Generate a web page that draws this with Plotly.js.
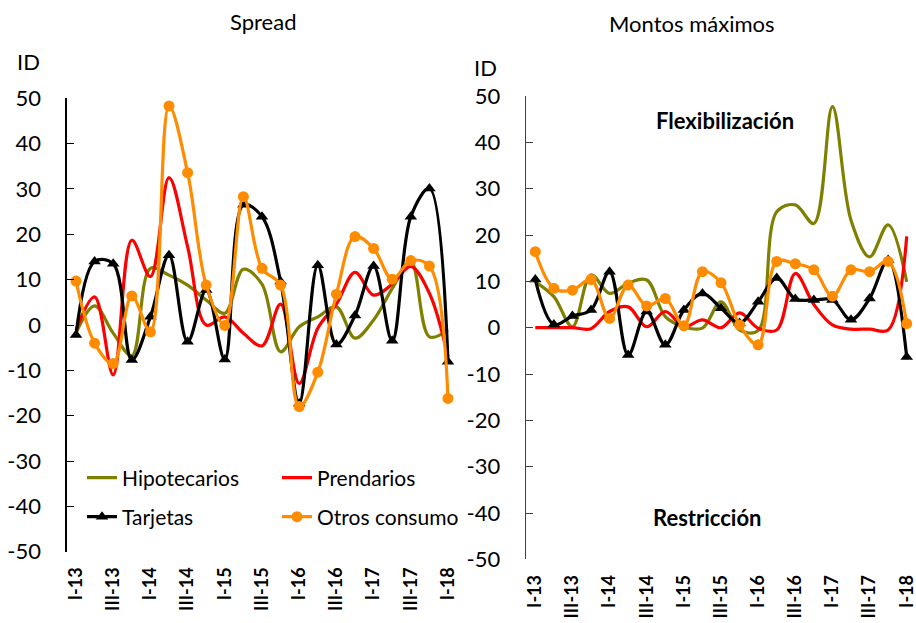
<!DOCTYPE html>
<html>
<head>
<meta charset="utf-8">
<script src="https://cdn.plot.ly/plotly-3.0.1.min.js"></script>
<style>
html,body{margin:0;padding:0;background:#fff;}
#chart{width:916px;height:623px;}
</style>
</head>
<body>
<div id="chart"></div>
<script>
// ---- Data ----
const quarters = ['I-13','II-13','III-13','IV-13','I-14','II-14','III-14','IV-14','I-15','II-15','III-15','IV-15','I-16','II-16','III-16','IV-16','I-17','II-17','III-17','IV-17','I-18'];
const tickLabels = ['I-13','III-13','I-14','III-14','I-15','III-15','I-16','III-16','I-17','III-17','I-18'];
const yTickValues = [-50, -40, -30, -20, -10, 0, 10, 20, 30, 40, 50];
const yTickText = ['-50', '-40', '-30', '-20', '-10', '0', '10', '20', '30', '40', '50'];
const seriesNames = ['Hipotecarios','Prendarios','Tarjetas','Otros consumo'];

// Spread (left panel)
const spreadHipotecarios = [-1.8, 4.2, -1.8, -6.8, 12.5, 11, 8.8, 5.5, 2.6, 12.3, 9.0, -5.9, -0.4, 1.8, 4.0, -2.9, 1.1, 8.0, 14.0, -2.6, -1.1];
const spreadPrendarios   = [-1.1, 6.2, -11, 18.7, 10.7, 32.5, 17.3, 0, 1.8, -1.8, -4.6, 4.6, -12.9, -0.7, 4.6, 11.6, 6.6, 9.0, 12.9, 7.0, -7.0];
const spreadTarjetas     = [-2.2, 14, 13.5, -7.7, 1.8, 15.4, -3.7, 7.7, -7.6, 26.5, 23.9, 9.6, -17.3, 13.2, -4.3, 2.1, 13.0, -3.5, 23.9, 30.1, -8.1];
const spreadOtros        = [9.7, -4, -8.5, 6.4, -1.5, 48.3, 33.6, 8.8, -0.1, 28.3, 12.5, 8.8, -18, -10.4, 6.8, 19.5, 16.9, 10.1, 14.2, 13.0, -16.2];

// Montos máximos (right panel)
const montosHipotecarios = [9.9, 6.7, 0.2, 11.4, 7.4, 9.6, 10.3, 2.4, 0.2, -0.1, 5.6, -0.5, -0.6, 25.0, 26.5, 22.5, 47.7, 23.2, 15.3, 22.2, 9.9];
const montosPrendarios   = [0, 0, 0, -0.2, 3.5, 4.5, 0.2, 3.5, 0.2, 1.7, 0, 3.2, -0.1, -0.5, 11.7, 5.0, 0.6, -0.3, -0.3, -0.5, 19.7];
const montosTarjetas     = [10.4, 0.7, 2.5, 3.8, 12.1, -5.9, 3.5, -3.7, 3.8, 7.4, 4.2, 1.0, 5.6, 10.7, 6.2, 6.0, 6.0, 1.7, 6.3, 14.6, -6.3];
const montosOtros        = [16.4, 8.5, 8.1, 10.4, 2.0, 9.2, 4.7, 6.3, 0.4, 12.1, 9.7, 0.6, -3.7, 14.3, 13.8, 12.5, 6.8, 12.5, 12.1, 14.3, 0.9];

// ---- Styles ----
const colors = ['#808000', '#ff0000', '#000000', '#ff8c00'];
const FONT = 'Lato, "Open Sans", sans-serif';
const W = 916, H = 623;

const leftX = [66.7 / W, 457.3 / W];
const rightX = [526 / W, 1.0];
const leftY = [1 - 551.7 / H, 1 - 98.3 / H];
const rightY = [1 - 559.4 / H, 1 - 96 / H];

function mk(x, y, i, xa, ya, legend, show) {
  const t = {
    x: x, y: y, type: 'scatter', name: seriesNames[i],
    xaxis: xa, yaxis: ya,
    line: {color: colors[i], width: 3.2, shape: 'spline', smoothing: 1},
    showlegend: show, legend: legend, cliponaxis: false
  };
  if (i === 2) { t.mode = 'lines+markers'; t.marker = {symbol: 'triangle-up', size: 11, color: colors[i]}; }
  else if (i === 3) { t.mode = 'lines+markers'; t.marker = {symbol: 'circle', size: 11, color: colors[i]}; }
  else { t.mode = 'lines'; }
  return t;
}

const traces = [
  mk(quarters, spreadHipotecarios, 0, 'x', 'y', 'legend', true),
  mk(quarters, spreadPrendarios, 1, 'x', 'y', 'legend', true),
  mk(quarters, spreadTarjetas, 2, 'x', 'y', 'legend2', true),
  mk(quarters, spreadOtros, 3, 'x', 'y', 'legend2', true),
  mk(quarters, montosHipotecarios, 0, 'x2', 'y2', 'legend', false),
  mk(quarters, montosPrendarios, 1, 'x2', 'y2', 'legend', false),
  mk(quarters, montosTarjetas, 2, 'x2', 'y2', 'legend', false),
  mk(quarters, montosOtros, 3, 'x2', 'y2', 'legend', false)
];

const tickFont = {family: FONT, size: 22, color: '#000'};
const xTickFont = {family: FONT, size: 18, color: '#000', weight: 'bold'};

function xCat(domain, anchor) {
  return {
    domain: domain, anchor: anchor, type: 'category',
    categoryorder: 'array', categoryarray: quarters,
    range: [-0.5, quarters.length - 0.5],
    tickmode: 'array', tickvals: tickLabels, ticktext: tickLabels,
    tickangle: -90, ticks: '', showline: false, showgrid: false, zeroline: false,
    tickfont: xTickFont, ticklabelstandoff: 11, fixedrange: true
  };
}
function yAx(domain, anchor, lineColor, standoff) {
  return {
    domain: domain, anchor: anchor, range: [-50, 50],
    tickmode: 'array', tickvals: yTickValues, ticktext: yTickText,
    ticks: 'inside', ticklen: 7, tickcolor: lineColor, tickwidth: 1,
    showline: true, linecolor: lineColor, linewidth: 1.3,
    showgrid: false, zeroline: false,
    tickfont: tickFont, ticklabelstandoff: standoff, fixedrange: true
  };
}
function zeroAx(domain, overlay, yDomain, color) {
  return {
    domain: domain, overlaying: overlay, anchor: 'free',
    position: (yDomain[0] + yDomain[1]) / 2,
    range: [-0.5, quarters.length - 0.5],
    tickmode: 'linear', tick0: 1.5, dtick: 2,
    ticks: 'inside', ticklen: 6, tickcolor: color, tickwidth: 1,
    showticklabels: false, showline: true, linecolor: color, linewidth: 1.5,
    showgrid: false, zeroline: false, fixedrange: true
  };
}

const layout = {
  width: W, height: H,
  margin: {l: 0, r: 0, t: 0, b: 0},
  paper_bgcolor: '#fff', plot_bgcolor: 'rgba(0,0,0,0)',
  font: {family: FONT, color: '#000'},
  hovermode: false,
  xaxis: xCat(leftX, 'y'),
  yaxis: yAx(leftY, 'x', '#000', 20),
  xaxis2: xCat(rightX, 'y2'),
  yaxis2: yAx(rightY, 'x2', '#404040', 20),
  xaxis3: zeroAx(leftX, 'x', leftY, '#000'),
  xaxis4: zeroAx(rightX, 'x2', rightY, '#808080'),
  legend: {
    orientation: 'h', x: 82 / W, xanchor: 'left', y: 1 - 478 / H, yanchor: 'middle',
    entrywidth: 150, font: {family: FONT, size: 21, color: '#000'},
    bgcolor: 'rgba(0,0,0,0)', traceorder: 'normal', itemclick: false, itemdoubleclick: false
  },
  legend2: {
    orientation: 'h', x: 82 / W, xanchor: 'left', y: 1 - 517 / H, yanchor: 'middle',
    entrywidth: 150, font: {family: FONT, size: 21, color: '#000'},
    bgcolor: 'rgba(0,0,0,0)', traceorder: 'normal', itemclick: false, itemdoubleclick: false
  },
  annotations: [
    {text: 'Spread', xref: 'paper', yref: 'paper', x: 263 / W, y: 1 - 22 / H, xanchor: 'center', yanchor: 'middle', showarrow: false, font: {family: FONT, size: 22}},
    {text: 'Montos máximos', xref: 'paper', yref: 'paper', x: 692 / W, y: 1 - 23 / H, xanchor: 'center', yanchor: 'middle', showarrow: false, font: {family: FONT, size: 22}},
    {text: 'ID', xref: 'paper', yref: 'paper', x: 28 / W, y: 1 - 61 / H, xanchor: 'center', yanchor: 'middle', showarrow: false, font: {family: FONT, size: 22}},
    {text: 'ID', xref: 'paper', yref: 'paper', x: 485 / W, y: 1 - 68 / H, xanchor: 'center', yanchor: 'middle', showarrow: false, font: {family: FONT, size: 22}},
    {text: '<b>Flexibilización</b>', xref: 'paper', yref: 'paper', x: 725 / W, y: 1 - 120 / H, xanchor: 'center', yanchor: 'middle', showarrow: false, font: {family: FONT, size: 22}},
    {text: '<b>Restricción</b>', xref: 'paper', yref: 'paper', x: 707 / W, y: 1 - 517 / H, xanchor: 'center', yanchor: 'middle', showarrow: false, font: {family: FONT, size: 22}}
  ]
};

Plotly.newPlot('chart', traces, layout, {staticPlot: true, displayModeBar: false});
</script>
</body>
</html>
